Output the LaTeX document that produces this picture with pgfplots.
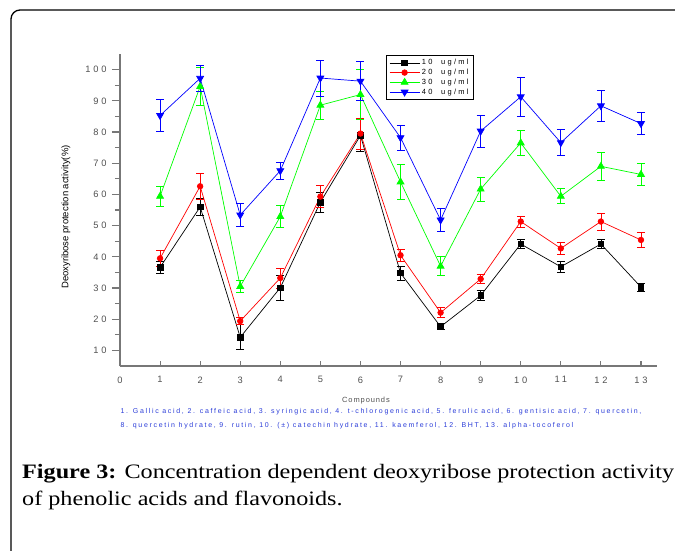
\documentclass[border=0pt]{standalone}
\usepackage{fontspec}
\usepackage{pgfplots}
\pgfplotsset{compat=1.18}
\setmainfont{Liberation Serif}
\newfontfamily\capfont[FakeStretch=1.18]{Liberation Serif}
\newfontfamily\spfont[LetterSpace=30]{Liberation Sans}
\newfontfamily\smfont[LetterSpace=24]{Liberation Sans}
\newfontfamily\cpfont[LetterSpace=12]{Liberation Sans}
\newfontfamily\lbfont{Liberation Sans}
\definecolor{axgray}{HTML}{777777}
\definecolor{tkgray}{HTML}{505050}
\definecolor{notblue}{HTML}{2a3cd8}

\pgfplotstableread{
x y e
1 36.6 1.8
2 56.0 2.7
3 14.2 4.0
4 30.1 4.0
5 57.5 3.2
6 78.9 5.0
7 34.8 2.2
8 17.6 1.0
9 27.6 1.6
10 44.1 1.5
11 36.8 1.8
12 44.1 1.5
13 30.3 1.3
}\tenug
\pgfplotstableread{
x y e
1 39.5 2.6
2 62.6 4.2
3 19.4 1.1
4 33.2 3.2
5 59.3 3.6
6 79.5 5.0
7 40.5 2.0
8 22.1 1.6
9 32.9 1.5
10 51.3 1.8
11 42.7 1.8
12 51.3 2.7
13 45.4 2.5
}\twentyug
\pgfplotstableread{
x y e
1 59.4 3.2
2 94.6 6.2
3 30.5 1.8
4 52.9 3.5
5 88.6 4.5
6 92.0 8.0
7 64.0 5.5
8 37.0 3.0
9 61.7 3.8
10 76.5 4.1
11 59.4 2.4
12 69.0 4.6
13 66.4 3.6
}\thirtyug
\pgfplotstableread{
x y e
1 85.3 5.2
2 97.2 4.2
3 53.4 3.6
4 67.6 2.8
5 97.3 5.8
6 96.3 6.2
7 78.2 4.0
8 51.8 3.7
9 80.3 5.1
10 91.3 6.2
11 76.6 4.2
12 88.4 5.1
13 82.7 3.6
}\fortyug

\begin{document}
\begin{tikzpicture}[x=1pt,y=1pt]
\useasboundingbox (0,0) rectangle (675,-550);
% frame of the figure box
\draw[line width=1.3pt,rounded corners=9pt] (11,-600) -- (11,-10) -- (720,-10);

\begin{axis}[
  at={(120pt,-366pt)}, anchor=south west,
  scale only axis,
  width=537pt, height=312pt,
  xmin=0, xmax=13.4,
  ymin=5, ymax=105,
  axis lines*=left,
  axis line style={axgray,line width=1.2pt},
  xtick={0,...,13},
  ytick={10,20,...,100},
  minor y tick num=1,
  xtick align=inside,
  ytick align=outside,
  xtick style={axgray,line width=1.1pt,/pgfplots/major tick length=5pt},
  ytick style={axgray,line width=1.1pt},
  major tick length=8pt,
  minor tick length=5pt,
  tick label style={font=\spfont\fontsize{9.3}{10}\selectfont,text=tkgray},
  /pgf/number format/assume math mode=true,
  xticklabel style={yshift=-7pt},
  yticklabel style={xshift=-2pt},
  legend style={at={(axis description cs:0.495,0.997)},anchor=north west,
    draw=black,line width=0.9pt,font=\spfont\fontsize{7.5}{8}\selectfont,
    text=black,inner xsep=3pt,inner ysep=2pt,row sep=-1.2pt},
  legend cell align=left,
  legend image code/.code={\draw[#1,mark repeat=2,mark phase=2] plot coordinates {(0pt,0pt)(15pt,0pt)(30pt,0pt)};},
  every axis plot/.append style={line width=0.7pt},
  error bars/error bar style={line width=0.7pt},
  error bars/error mark options={rotate=90,mark size=4pt,line width=0.7pt},
]
\addplot[black,mark=square*,mark size=2.8pt,error bars/.cd,y dir=both,y explicit]
  table[x=x,y=y,y error=e]{\tenug};
\addplot[red,mark=*,mark size=2.8pt,error bars/.cd,y dir=both,y explicit]
  table[x=x,y=y,y error=e]{\twentyug};
\addplot[green,mark=triangle*,mark size=4pt,error bars/.cd,y dir=both,y explicit]
  table[x=x,y=y,y error=e]{\thirtyug};
\addplot[blue,mark=triangle*,mark options={rotate=180},mark size=4pt,error bars/.cd,y dir=both,y explicit]
  table[x=x,y=y,y error=e]{\fortyug};
\legend{10\ \ ug/ml,20\ \ ug/ml,30\ \ ug/ml,40\ \ ug/ml}
\end{axis}

\node[rotate=90,font=\lbfont\fontsize{9.5}{10}\selectfont,text=black] at (66,-217) {Deoxyribose protection activity(\%)};
\node[font=\cpfont\fontsize{7.5}{8}\selectfont,text=tkgray] at (366,-401) {Compounds};
\node[anchor=west,font=\smfont\fontsize{7}{8}\selectfont,text=notblue] at (117,-412) {1. Gallic acid, 2. caffeic acid, 3. syringic acid, 4. t-chlorogenic acid, 5. ferulic acid, 6. gentisic acid, 7. quercetin,};
\node[anchor=west,font=\smfont\fontsize{7}{8}\selectfont,text=notblue] at (117,-426) {8. quercetin hydrate, 9. rutin, 10. (±) catechin hydrate, 11. kaemferol, 12. BHT, 13. alpha-tocoferol};
\node[anchor=base west,font=\capfont\fontsize{20.5}{24}\selectfont,inner sep=0pt] at (22,-478) {\textbf{Figure 3:} Concentration dependent deoxyribose protection activity};
\node[anchor=base west,font=\capfont\fontsize{20.5}{24}\selectfont,inner sep=0pt] at (22,-505) {of phenolic acids and flavonoids.};
\end{tikzpicture}
\end{document}
